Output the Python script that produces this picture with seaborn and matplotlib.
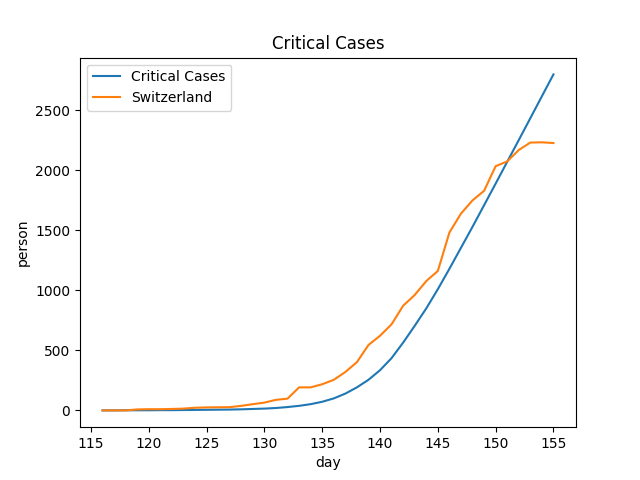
import numpy as np
import pandas as pd
import matplotlib
matplotlib.use("Agg")
import matplotlib.pyplot as plt
import seaborn as sns

# days covered by the chart
days = list(range(116, 156))

# model curve (blue)
critical_cases = [0, 0, 1, 1, 1, 2, 2, 3, 4, 5,
                  6, 7, 9, 12, 15, 20, 28, 38, 52, 72,
                  100, 140, 192, 255, 335, 436, 565, 705, 850, 1010,
                  1180, 1355, 1530, 1710, 1890, 2072, 2253, 2435, 2618, 2800]

# observed data (orange)
switzerland = [0, 0, 0, 8, 10, 10, 12, 15, 22, 25,
               26, 27, 38, 52, 65, 88, 98, 192, 192, 218,
               255, 320, 402, 545, 622, 718, 872, 962, 1078, 1162,
               1482, 1640, 1750, 1830, 2035, 2075, 2170, 2232, 2234, 2228]

df = pd.DataFrame({"day": days, "Critical Cases": critical_cases, "Switzerland": switzerland})

fig, ax = plt.subplots(figsize=(6.4, 4.8), dpi=100)
sns.lineplot(data=df, x="day", y="Critical Cases", ax=ax, label="Critical Cases", color="C0")
sns.lineplot(data=df, x="day", y="Switzerland", ax=ax, label="Switzerland", color="C1")

ax.set_title("Critical Cases")
ax.set_xlabel("day")
ax.set_ylabel("person")
ax.legend(loc="upper left")

fig.savefig("out.png", dpi=100)
